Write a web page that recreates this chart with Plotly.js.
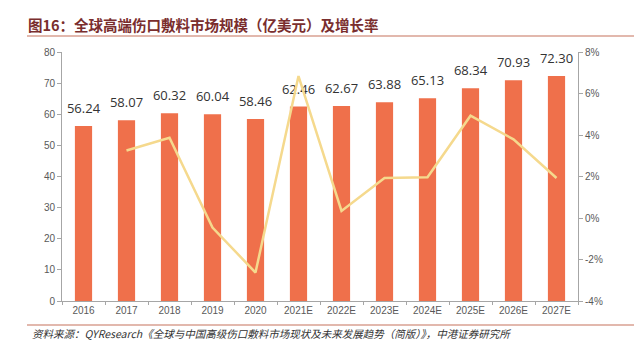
<!DOCTYPE html>
<html>
<head>
<meta charset="utf-8">
<script src="https://cdn.plot.ly/plotly-3.0.1.min.js"></script>
<style>html,body{margin:0;padding:0;background:#fff;}#chart{width:634px;height:350px;}</style>
</head>
<body>
<div id="chart"></div>
<script>
const years = ['2016','2017','2018','2019','2020','2021E','2022E','2023E','2024E','2025E','2026E','2027E'];
const marketSize = [56.24, 58.07, 60.32, 60.04, 58.46, 62.46, 62.67, 63.88, 65.13, 68.34, 70.93, 72.30];
const growthYears = ['2017','2018','2019','2020','2021E','2022E','2023E','2024E','2025E','2026E','2027E'];
const growthRate = [0.0325, 0.0387, -0.0046, -0.0263, 0.0684, 0.0034, 0.0193, 0.0196, 0.0493, 0.0379, 0.0193];
const rateTicks = [-0.04, -0.02, 0, 0.02, 0.04, 0.06, 0.08];
const rateTickLabels = ['-4%', '-2%', '0%', '2%', '4%', '6%', '8%'];
const titleText = '图16：全球高端伤口敷料市场规模（亿美元）及增长率';
const sourceText = '资料来源：QYResearch《全球与中国高级伤口敷料市场现状及未来发展趋势（简版）》，中港证券研究所';

const cjk = '"Noto Sans CJK SC", "Liberation Sans", sans-serif';
const axFont = {family: '"Liberation Sans", Arial, sans-serif', size: 10, color: '#595959'};

const traces = [
  {
    type: 'bar', x: years, y: marketSize,
    marker: {color: '#ef704b'},
    width: 0.4,
    hoverinfo: 'skip'
  },
  {
    type: 'scatter', mode: 'lines', x: growthYears, y: growthRate, yaxis: 'y2',
    line: {color: '#f5d98d', width: 2.5},
    hoverinfo: 'skip'
  },
  {
    type: 'scatter', mode: 'markers+text', x: years, y: marketSize,
    marker: {size: 14, opacity: 0},
    text: marketSize.map(v => v.toFixed(2)),
    textposition: 'top center',
    textfont: {family: '"Open Sans", "Liberation Sans", sans-serif', size: 13, color: '#333333'},
    cliponaxis: false,
    hoverinfo: 'skip'
  }
];

const layout = {
  width: 634, height: 350,
  margin: {l: 62, r: 56, t: 52, b: 49},
  paper_bgcolor: '#ffffff', plot_bgcolor: '#ffffff',
  showlegend: false,
  bargap: 0.6,
  title: {
    text: '<b>' + titleText + '</b>',
    font: {family: cjk, size: 14.5, color: '#7a2e2e'},
    xref: 'container', yref: 'container',
    x: 28/634, xanchor: 'left', y: 1 - 26/350, yanchor: 'middle'
  },
  xaxis: {
    type: 'category',
    range: [-0.5, years.length - 0.5],
    showgrid: false, zeroline: false,
    showline: true, linecolor: '#a6a6a6', linewidth: 1,
    ticks: 'outside', tickson: 'boundaries', ticklen: 3, tickcolor: '#a6a6a6',
    tickfont: axFont
  },
  yaxis: {
    range: [0, 80], dtick: 10,
    showgrid: false, zeroline: false,
    showline: true, linecolor: '#a6a6a6', linewidth: 1,
    ticks: 'outside', ticklen: 4, tickcolor: '#a6a6a6',
    tickfont: axFont
  },
  yaxis2: {
    overlaying: 'y', side: 'right',
    range: [-0.04, 0.08],
    tickmode: 'array', tickvals: rateTicks, ticktext: rateTickLabels,
    showgrid: false, zeroline: false,
    showline: true, linecolor: '#a6a6a6', linewidth: 1,
    ticks: 'outside', ticklen: 4, tickcolor: '#a6a6a6',
    tickfont: axFont
  },
  shapes: [
    {type: 'line', xref: 'paper', yref: 'paper',
     x0: -35/516, x1: 572/516, y0: 1 + 16/249, y1: 1 + 16/249,
     line: {color: '#d9a192', width: 1.5}},
    {type: 'line', xref: 'paper', yref: 'paper',
     x0: -35/516, x1: 572/516, y0: -24/249, y1: -24/249,
     line: {color: '#d9a192', width: 1.5}}
  ],
  annotations: [
    {text: '<i>' + sourceText + '</i>', xref: 'paper', yref: 'paper',
     x: -32/516, y: -32/249, xanchor: 'left', yanchor: 'middle', showarrow: false,
     font: {family: cjk, size: 10.5, color: '#333333'}}
  ]
};

Plotly.newPlot('chart', traces, layout, {staticPlot: true, displayModeBar: false});
</script>
</body>
</html>
